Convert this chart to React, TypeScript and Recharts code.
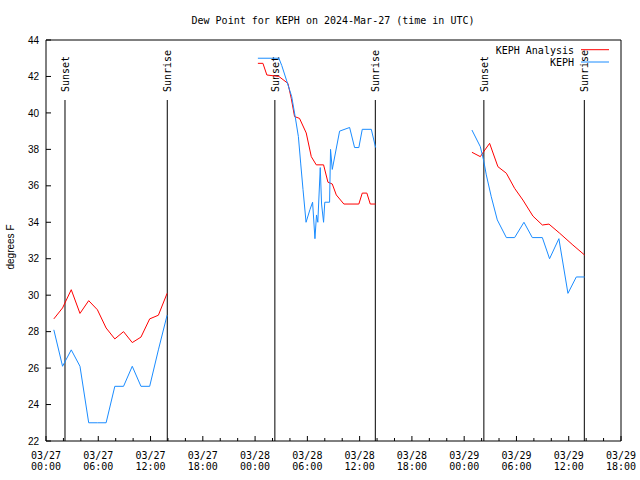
import { LineChart, Line, XAxis, YAxis, ReferenceLine } from "recharts";

const mono = "'DejaVu Sans Mono', monospace";
const sans = "'Liberation Sans', Arial, sans-serif";

// hours since 03/27 00:00 UTC
const seg1Hours = [0.9, 1.9, 2.9, 3.9, 4.9, 5.9, 6.9, 7.9, 8.9, 9.9, 10.9, 11.9, 12.9, 13.9];
const seg1Analysis = [28.7, 29.3, 30.3, 29.0, 29.7, 29.2, 28.2, 27.6, 28.0, 27.4, 27.7, 28.7, 28.9, 30.1];
const seg1Keph = [28.1, 26.1, 27.0, 26.1, 23.0, 23.0, 23.0, 25.0, 25.0, 26.1, 25.0, 25.0, 27.0, 28.9];

const seg2AnalysisHours = [24.32, 24.9, 25.35, 26.73, 27.77, 28.15, 28.53, 29.1, 29.87, 30.45, 31.02, 31.86, 32.36, 32.86, 33.32, 34.19, 35.91, 36.3, 36.83, 37.22, 37.83];
const seg2Analysis = [42.72, 42.72, 42.08, 42.0, 41.62, 40.8, 39.8, 39.7, 38.9, 37.6, 37.15, 37.15, 36.2, 36.1, 35.5, 35.0, 35.0, 35.6, 35.6, 35.0, 35.0];
const seg2KephHours = [24.32, 26.73, 27.06, 27.6, 28.2, 28.6, 28.97, 29.24, 29.5, 29.85, 30.3, 30.6, 30.87, 31.05, 31.2, 31.48, 31.63, 31.86, 32.0, 32.55, 32.66, 32.86, 33.7, 34.85, 35.42, 35.91, 36.3, 37.34, 37.83];
const seg2Keph = [43.0, 43.0, 42.6, 41.8, 40.9, 39.8, 38.7, 37.2, 35.8, 34.0, 34.7, 35.1, 33.1, 34.4, 34.0, 37.0, 35.0, 34.0, 35.1, 35.1, 38.0, 36.9, 39.0, 39.2, 38.1, 38.1, 39.1, 39.1, 38.1];

const seg3AnalysisHours = [48.89, 49.85, 50.23, 50.92, 51.87, 52.84, 53.79, 54.74, 55.89, 56.97, 57.73, 58.96, 60.48, 61.83];
const seg3Analysis = [37.84, 37.6, 37.87, 38.33, 37.05, 36.69, 35.86, 35.22, 34.34, 33.85, 33.9, 33.4, 32.75, 32.2];
const seg3KephHours = [48.89, 49.85, 50.23, 50.54, 51.11, 51.8, 52.84, 53.79, 54.86, 55.82, 56.97, 57.8, 58.87, 59.91, 60.87, 61.83];
const seg3Keph = [39.06, 38.15, 37.4, 36.6, 35.4, 34.13, 33.16, 33.16, 34.0, 33.16, 33.16, 32.0, 33.1, 30.1, 31.0, 31.0];

const sunHours = [2.18, 13.92, 26.27, 37.8, 50.26, 61.79];
const sunLabels = ["Sunset", "Sunrise", "Sunset", "Sunrise", "Sunset", "Sunrise"];

const xTicks = Array.from({ length: 34 }, (_, i) => i * 2);
const xMajorDates = ["03/27", "03/27", "03/27", "03/27", "03/28", "03/28", "03/28", "03/28", "03/29", "03/29", "03/29", "03/29"];
const xMajorTimes = ["00:00", "06:00", "12:00", "18:00", "00:00", "06:00", "12:00", "18:00", "00:00", "06:00", "12:00", "18:00"];
const yTicks = [22, 24, 26, 28, 30, 32, 34, 36, 38, 40, 42, 44];

const seriesNames = ["KEPH Analysis", "KEPH"];
const RED = "#ff0000";
const BLUE = "#1a8cff";
const seriesColors = [RED, BLUE];

const pts = (hours: number[], vals: number[]) => hours.map((h, i) => ({ h, v: vals[i] }));

const BottomTick = (props: any) => {
  const { x, y, payload } = props;
  const h = payload.value;
  const major = h % 6 === 0;
  const idx = h / 6;
  return (
    <g>
      <line x1={x} x2={x} y1={y} y2={y - (major ? 5 : 3)} stroke="#000" />
      {major && (
        <text x={x} y={y + 17.6} textAnchor="middle" fontFamily={mono} fontSize={10} fill="#000">
          <tspan x={x}>{xMajorDates[idx]}</tspan>
          <tspan x={x} dy={11.7}>{xMajorTimes[idx]}</tspan>
        </text>
      )}
    </g>
  );
};

const TopTick = (props: any) => {
  const { x, y, payload } = props;
  const major = payload.value % 6 === 0;
  return <line x1={x} x2={x} y1={y} y2={y + (major ? 5 : 3)} stroke="#000" />;
};

const LeftTick = (props: any) => {
  const { x, y, payload } = props;
  return (
    <g>
      <line x1={x} x2={x + 5} y1={y} y2={y} stroke="#000" />
      <text x={x - 7} y={y + 3.6} textAnchor="end" fontFamily={sans} fontSize={10} fill="#000">
        {payload.value}
      </text>
    </g>
  );
};

const RightTick = (props: any) => {
  const { x, y } = props;
  return <line x1={x} x2={x - 5} y1={y} y2={y} stroke="#000" />;
};

const SunMark = (props: any) => {
  const { viewBox, text } = props;
  if (!viewBox) return null;
  const x = viewBox.x;
  const top = viewBox.y;
  const bottom = viewBox.y + viewBox.height;
  return (
    <g>
      <line x1={x} x2={x} y1={top + 60} y2={bottom} stroke="#000" />
      <text
        x={x + 4}
        y={top + 52}
        transform={`rotate(-90, ${x + 4}, ${top + 52})`}
        fontFamily={mono}
        fontSize={10}
        fill="#000"
      >
        {text}
      </text>
    </g>
  );
};

export default function App() {
  return (
    <div style={{ position: "absolute", left: 0, top: 0, width: 640, height: 480, background: "#fff" }}>
      <LineChart width={640} height={480} margin={{ top: 0, right: 0, bottom: 0, left: 0 }}>
        <XAxis
          xAxisId="bottom"
          type="number"
          dataKey="h"
          domain={[0, 66]}
          ticks={xTicks}
          interval={0}
          height={39}
          tickSize={0}
          tickMargin={0}
          tick={<BottomTick />}
          axisLine={{ stroke: "#000" }}
        />
        <XAxis
          xAxisId="top"
          orientation="top"
          type="number"
          dataKey="h"
          domain={[0, 66]}
          ticks={xTicks}
          interval={0}
          height={40}
          tickSize={0}
          tickMargin={0}
          tick={<TopTick />}
          axisLine={{ stroke: "#000" }}
        />
        <YAxis
          yAxisId="left"
          type="number"
          domain={[22, 44]}
          ticks={yTicks}
          interval={0}
          width={46}
          tickSize={0}
          tickMargin={0}
          tick={<LeftTick />}
          axisLine={{ stroke: "#000" }}
        />
        <YAxis
          yAxisId="right"
          orientation="right"
          type="number"
          domain={[22, 44]}
          ticks={yTicks}
          interval={0}
          width={19}
          tickSize={0}
          tickMargin={0}
          tick={<RightTick />}
          axisLine={{ stroke: "#000" }}
        />
        {sunHours.map((h, i) => (
          <ReferenceLine
            key={i}
            x={h}
            xAxisId="bottom"
            yAxisId="left"
            stroke="none"
            label={<SunMark text={sunLabels[i]} />}
          />
        ))}
        <Line xAxisId="bottom" yAxisId="left" data={pts(seg1Hours, seg1Analysis)} dataKey="v" name={seriesNames[0]} stroke={RED} strokeWidth={1} dot={false} type="linear" isAnimationActive={false} />
        <Line xAxisId="bottom" yAxisId="left" data={pts(seg1Hours, seg1Keph)} dataKey="v" name={seriesNames[1]} stroke={BLUE} strokeWidth={1} dot={false} type="linear" isAnimationActive={false} />
        <Line xAxisId="bottom" yAxisId="left" data={pts(seg2AnalysisHours, seg2Analysis)} dataKey="v" name={seriesNames[0]} stroke={RED} strokeWidth={1} dot={false} type="linear" isAnimationActive={false} />
        <Line xAxisId="bottom" yAxisId="left" data={pts(seg2KephHours, seg2Keph)} dataKey="v" name={seriesNames[1]} stroke={BLUE} strokeWidth={1} dot={false} type="linear" isAnimationActive={false} />
        <Line xAxisId="bottom" yAxisId="left" data={pts(seg3AnalysisHours, seg3Analysis)} dataKey="v" name={seriesNames[0]} stroke={RED} strokeWidth={1} dot={false} type="linear" isAnimationActive={false} />
        <Line xAxisId="bottom" yAxisId="left" data={pts(seg3KephHours, seg3Keph)} dataKey="v" name={seriesNames[1]} stroke={BLUE} strokeWidth={1} dot={false} type="linear" isAnimationActive={false} />
      </LineChart>
      <svg
        width={640}
        height={480}
        style={{ position: "absolute", left: 0, top: 0, pointerEvents: "none" }}
      >
        <text x={333} y={23.5} textAnchor="middle" fontFamily={mono} fontSize={10} fill="#000">
          Dew Point for KEPH on 2024-Mar-27 (time in UTC)
        </text>
        <text
          x={14}
          y={247}
          textAnchor="middle"
          transform="rotate(-90, 14, 247)"
          fontFamily={sans}
          fontSize={10}
          fill="#000"
        >
          degrees F
        </text>
        {seriesNames.map((name, i) => (
          <g key={name}>
            <text x={574} y={53.5 + i * 12} textAnchor="end" fontFamily={mono} fontSize={10} fill="#000">
              {name}
            </text>
            <line x1={581} x2={609} y1={49.7 + i * 12.3} y2={49.7 + i * 12.3} stroke={seriesColors[i]} />
          </g>
        ))}
      </svg>
    </div>
  );
}
